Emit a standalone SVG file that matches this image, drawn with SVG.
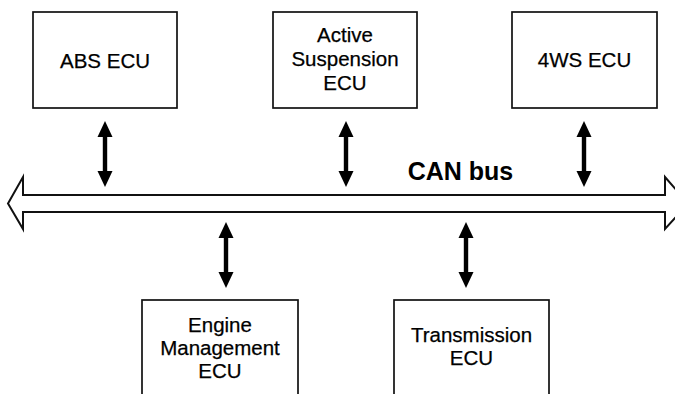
<svg xmlns="http://www.w3.org/2000/svg" xmlns:xlink="http://www.w3.org/1999/xlink" width="675" height="394" viewBox="0 0 675 394">
  <style>
    .box { fill: #fff; stroke: #111; stroke-width: 1.7; }
    .lbl { font-family: "Liberation Sans", Arial, Helvetica, sans-serif; font-size: 20.5px; fill: #000; stroke: #000; stroke-width: 0.25; text-anchor: middle; }
    .bus { fill: #fff; stroke: #111; stroke-width: 2; stroke-linejoin: miter; }
    .busname { font-family: "Liberation Sans", Arial, Helvetica, sans-serif; font-size: 25px; font-weight: bold; fill: #000; text-anchor: middle; }
    .link { fill: #000; }
  </style>
  <defs>
    <!-- two-headed link arrow, anchored at its top tip -->
    <path id="dbl" d="M0,0 L7.5,16 L2.2,16 L2.2,50 L7.5,50 L0,66 L-7.5,50 L-2.2,50 L-2.2,16 L-7.5,16 Z"/>
  </defs>
  <rect width="675" height="394" fill="#fff"/>

  <!-- the bus: a hollow double-ended arrow -->
  <g id="can-bus">
    <path class="bus" d="M8,203.5 L23,177 L23,195 L665,195 L665,177 L688,203.5 L665,229 L665,212 L23,212 L23,229 Z"/>
    <text class="busname" x="460.5" y="180">CAN bus</text>
  </g>

  <g id="abs-ecu">
    <rect class="box" x="33" y="12" width="144" height="96"/>
    <text class="lbl" x="105" y="68">ABS ECU</text>
  </g>

  <g id="active-suspension-ecu">
    <rect class="box" x="273" y="12" width="144" height="96"/>
    <text class="lbl" x="345" y="42">Active</text>
    <text class="lbl" x="345" y="66">Suspension</text>
    <text class="lbl" x="345" y="90">ECU</text>
  </g>

  <g id="fws-ecu">
    <rect class="box" x="512" y="12" width="145" height="96"/>
    <text class="lbl" x="584.5" y="67">4WS ECU</text>
  </g>

  <g id="engine-management-ecu">
    <rect class="box" x="142" y="300" width="156" height="110"/>
    <text class="lbl" x="220" y="332">Engine</text>
    <text class="lbl" x="220" y="355">Management</text>
    <text class="lbl" x="220" y="378">ECU</text>
  </g>

  <g id="transmission-ecu">
    <rect class="box" x="394" y="300" width="155" height="110"/>
    <text class="lbl" x="471.5" y="342">Transmission</text>
    <text class="lbl" x="471.5" y="365">ECU</text>
  </g>

  <g id="connectors" class="link">
    <use xlink:href="#dbl" x="105" y="121"/>
    <use xlink:href="#dbl" x="346" y="121"/>
    <use xlink:href="#dbl" x="584" y="121"/>
    <use xlink:href="#dbl" x="226" y="222"/>
    <use xlink:href="#dbl" x="466" y="222"/>
  </g>
</svg>
